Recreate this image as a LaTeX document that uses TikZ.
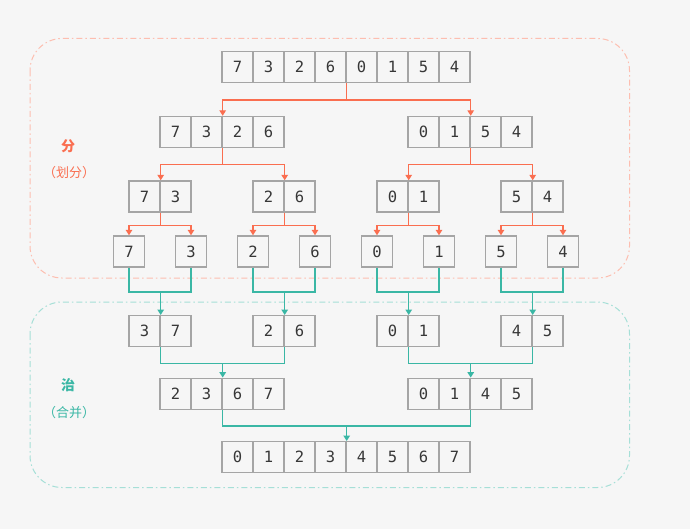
\documentclass[tikz,border=0pt]{standalone}
\usepackage{fontspec}
\setmonofont{DejaVu Sans Mono}
\newfontfamily\cjk{Noto Sans CJK SC}
\usetikzlibrary{arrows.meta}
\definecolor{bg}{RGB}{246,246,246}
\definecolor{splitc}{RGB}{250,110,80}
\definecolor{mergec}{RGB}{58,183,165}
\definecolor{cellc}{RGB}{165,165,165}
\definecolor{numc}{RGB}{55,55,55}

% one row of cells: name, left x, top y, values
\newcommand{\cells}[4]{%
  \foreach \v [count=\i] in {#4}
    \node[cell] (#1\i) at ({#2+(\i-0.5)*31},{#3+15.5}) {\v};
}

\begin{document}
\begin{tikzpicture}[x=1pt, y=-1pt,
  cell/.style={draw=cellc, line width=1.4pt, minimum size=31pt, inner sep=0pt, text=numc, font=\ttfamily\fontsize{15.5}{15.5}\selectfont},
  split/.style={draw=splitc, line width=1.5pt, -{Triangle[width=6.5pt,length=5.5pt]}},
  merge/.style={draw=mergec, line width=1.5pt},
  mergeto/.style={merge, -{Triangle[width=6.5pt,length=5.5pt]}},
  zone/.style={line width=1pt, rounded corners=32pt, dash pattern=on 6pt off 3pt on 1.5pt off 3pt},
  title/.style={font=\cjk\bfseries\fontsize{14}{14}\selectfont},
  note/.style={font=\cjk\fontsize{13}{13}\selectfont}]
\fill[bg] (0,0) rectangle (690,529);
\useasboundingbox (0,0) rectangle (690,529);

\draw[zone, draw=splitc!45] (30,38.5) rectangle (629.5,278);
\draw[zone, draw=mergec!45] (30,302) rectangle (629.5,487.5);

\node[title, text=splitc] (divide) at (68,146.5) {分};
\node[note, text=splitc] (divnote) at (69,173) {（划分）};
\node[title, text=mergec] (conquer) at (68,385) {治};
\node[note, text=mergec] (connote) at (69,412.5) {（合并）};

% split
\cells{t}{222}{51.5}{7,3,2,6,0,1,5,4}
\cells{a}{160}{116.5}{7,3,2,6}
\cells{b}{408}{116.5}{0,1,5,4}
\cells{c}{129}{181}{7,3}
\cells{d}{253}{181}{2,6}
\cells{e}{377}{181}{0,1}
\cells{f}{501}{181}{5,4}
\foreach \v [count=\i] in {7,3,2,6,0,1,5,4}
	\node[cell] (g\i) at ({129+(\i-1)*62},251.5) {\v};

\draw[split] (t4.south east) -- ++(0,17) -| (a2.north east);
\draw[split] (t4.south east) -- ++(0,17) -| (b2.north east);
\draw[split] (a2.south east) -- ++(0,16.5) -| (c1.north east);
\draw[split] (a2.south east) -- ++(0,16.5) -| (d1.north east);
\draw[split] (b2.south east) -- ++(0,16.5) -| (e1.north east);
\draw[split] (b2.south east) -- ++(0,16.5) -| (f1.north east);
\foreach \p/\l/\r in {c/1/2, d/3/4, e/5/6, f/7/8} {
	\draw[split] (\p1.south east) -- ++(0,13) -| (g\l.north);
	\draw[split] (\p1.south east) -- ++(0,13) -| (g\r.north);
}

% merge
\cells{p}{129}{315.7}{3,7}
\cells{q}{253}{315.7}{2,6}
\cells{r}{377}{315.7}{0,1}
\cells{s}{501}{315.7}{4,5}
\cells{u}{160}{378.3}{2,3,6,7}
\cells{v}{408}{378.3}{0,1,4,5}
\cells{w}{222}{441.7}{0,1,2,3,4,5,6,7}

\foreach \l/\r/\m in {1/2/p, 3/4/q, 5/6/r, 7/8/s} {
	\draw[merge] (g\l.south) -- ++(0,24.5) -| (g\r.south);
	\draw[mergeto] (g\l.south) ++(0,24.5) -| (\m1.north east);
}
\draw[merge] (p1.south east) -- ++(0,16) -| (q1.south east);
\draw[mergeto] (p1.south east) ++(0,16) -| (u2.north east);
\draw[merge] (r1.south east) -- ++(0,16) -| (s1.south east);
\draw[mergeto] (r1.south east) ++(0,16) -| (v2.north east);
\draw[merge] (u2.south east) -- ++(0,16) -| (v2.south east);
\draw[mergeto] (u2.south east) ++(0,16) -| (w4.north east);
\end{tikzpicture}
\end{document}
